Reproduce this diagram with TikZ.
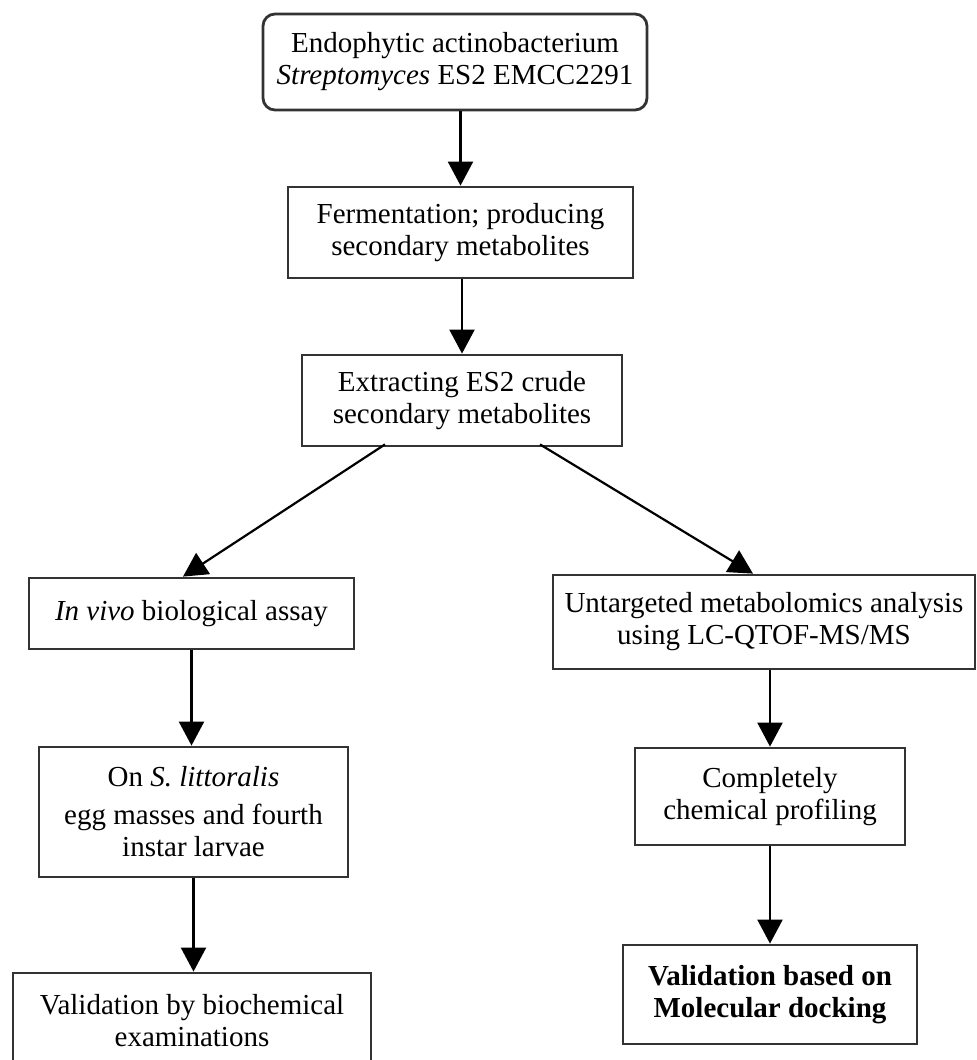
\documentclass[tikz,border=0pt]{standalone}
\usepackage{fontspec}
\setmainfont{Liberation Serif}
\usetikzlibrary{arrows.meta}
\begin{document}
\begin{tikzpicture}[x=1pt,y=-1pt,
 box/.style={draw=black!80, line width=2.8pt, align=center, inner sep=0pt, font=\fontsize{29}{32}\selectfont},
 arr/.style={line width=2.2pt, -{Triangle[width=25pt,length=24pt]}}]
\useasboundingbox (0,0) rectangle (977,1060);
\begin{scope}
\clip (0,0) rectangle (977,1060);
\node[box, rounded corners=12pt, minimum width=384pt, minimum height=96pt] (top) at (455,62) {Endophytic actinobacterium\\\textit{Streptomyces} ES2 EMCC2291};
\node[box, minimum width=345pt, minimum height=91pt] (ferm) at (460.5,232.5) {Fermentation; producing\\secondary metabolites};
\node[box, minimum width=320pt, minimum height=91pt] (extr) at (462,400.5) {Extracting ES2 crude\\secondary metabolites};
\node[box, minimum width=325pt, minimum height=71pt] (invivo) at (191.5,613.5) {\textit{In vivo} biological assay};
\node[box, minimum width=309pt, minimum height=130pt] (onS) at (193.5,812) {On \textit{S. littoralis}\\[6pt]egg masses and fourth\\instar larvae};
\node[box, minimum width=358pt, minimum height=96pt] (valbio) at (192,1021) {Validation by biochemical\\examinations};
\node[box, minimum width=422pt, minimum height=94pt] (untarg) at (764,622) {Untargeted metabolomics analysis\\using LC-QTOF-MS/MS};
\node[box, minimum width=270pt, minimum height=97pt] (chem) at (770,796.5) {Completely\\chemical profiling};
\node[box, minimum width=294pt, minimum height=99pt, font=\fontsize{29}{32}\selectfont\bfseries] (valmol) at (770,994.5) {Validation based on\\Molecular docking};
\end{scope}
\draw[arr] (ferm.north |- top.south) -- (ferm.north);
\draw[arr] (extr.north |- ferm.south) -- (extr.north);
\draw[arr] ([xshift=-77pt,yshift=3pt]extr.south) -- ([xshift=-8.5pt]invivo.north);
\draw[arr] ([xshift=78pt,yshift=3pt]extr.south) -- ([xshift=-11pt]untarg.north);
\draw[arr] (invivo.south) -- (invivo.south |- onS.north);
\draw[arr] (onS.south) -- (onS.south |- valbio.north);
\draw[arr] (chem.north |- untarg.south) -- (chem.north);
\draw[arr] (chem.south) -- (valmol.north);
\end{tikzpicture}
\end{document}
